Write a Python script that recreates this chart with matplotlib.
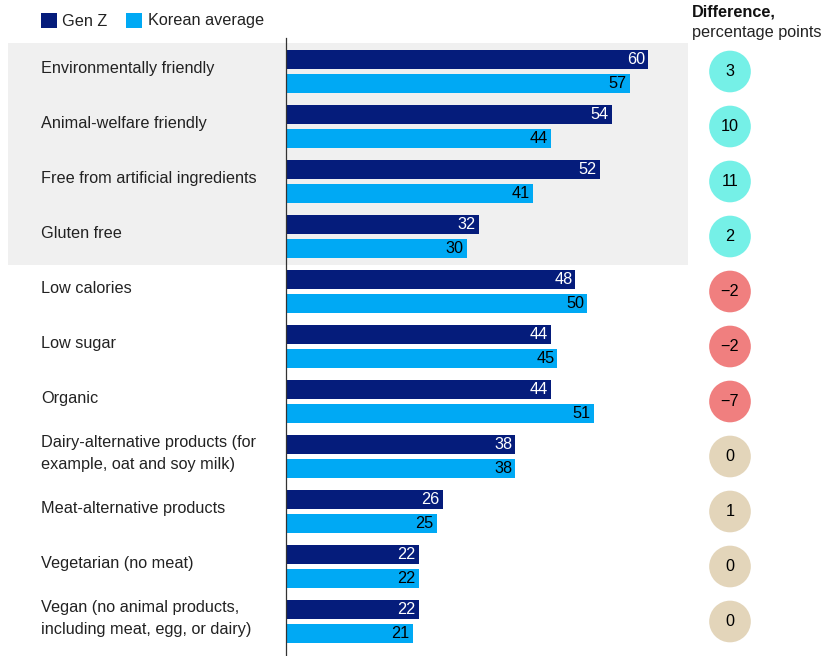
import matplotlib.pyplot as plt

plt.rcParams['font.family'] = ['Liberation Sans', 'DejaVu Sans']

# data
categories = ['Environmentally friendly', 'Animal-welfare friendly',
              'Free from artificial ingredients', 'Gluten free', 'Low calories',
              'Low sugar', 'Organic',
              'Dairy-alternative products (for\nexample, oat and soy milk)',
              'Meat-alternative products', 'Vegetarian (no meat)',
              'Vegan (no animal products,\nincluding meat, egg, or dairy)']
gen_z = [60, 54, 52, 32, 48, 44, 44, 38, 26, 22, 22]
korean_avg = [57, 44, 41, 30, 50, 45, 51, 38, 25, 22, 21]
difference = [3, 10, 11, 2, -2, -2, -7, 0, 1, 0, 0]
diff_group = ['higher'] * 4 + ['lower'] * 3 + ['similar'] * 4

navy = '#051c7b'
sky = '#00a9f4'
group_colors = {'higher': '#75f0e7', 'lower': '#f07f7f', 'similar': '#e3d5ba'}
fs = 11.7

W, H = 837, 656
fig = plt.figure(figsize=(W / 100, H / 100), dpi=100)

def px_axes(x0, y0, x1, y1):
    return fig.add_axes([x0 / W, 1 - y1 / H, (x1 - x0) / W, (y1 - y0) / H])

# background layer in pixel coords
bg = fig.add_axes([0, 0, 1, 1])
bg.set_xlim(0, W)
bg.set_ylim(H, 0)
bg.axis('off')
bg.add_patch(plt.Rectangle((8, 43), 680, 222, color='#f0f0f0', lw=0))

# legend
bg.add_patch(plt.Rectangle((41, 13), 16, 15, color=navy, lw=0))
bg.text(62, 21, 'Gen Z', fontsize=fs, va='center', color='#222222')
bg.add_patch(plt.Rectangle((126, 13), 16, 15, color=sky, lw=0))
bg.text(148, 21, 'Korean average', fontsize=fs, va='center', color='#222222')

# difference header
bg.text(692, 12, 'Difference,', fontsize=fs, fontweight='bold', va='center', color='#111111')
bg.text(692, 32, 'percentage points', fontsize=fs, va='center', color='#222222')

# bars
n = len(categories)
row_px = 55
top_row = 71.5
y_top = (38 - top_row) / row_px
y_bot = (H - top_row) / row_px
xmax = 67

ax = px_axes(286, 38, 690, H)
ax.patch.set_alpha(0)
ax.set_xlim(0, xmax)
ax.set_ylim(y_bot, y_top)
rows = list(range(n))
bh = 0.345
off = 0.21
ax.barh([r - off for r in rows], gen_z, height=bh, color=navy)
ax.barh([r + off for r in rows], korean_avg, height=bh, color=sky)
for r in rows:
    ax.text(gen_z[r] - 0.5, r - off, str(gen_z[r]), ha='right', va='center',
            fontsize=fs, color='white')
    ax.text(korean_avg[r] - 0.5, r + off, str(korean_avg[r]), ha='right', va='center',
            fontsize=fs, color='black')
for s in ['top', 'right', 'bottom']:
    ax.spines[s].set_visible(False)
ax.spines['left'].set_color('#333333')
ax.spines['left'].set_linewidth(0.9)
ax.set_xticks([])
ax.set_yticks([])

# category labels
for r, c in enumerate(categories):
    bg.text(41, top_row + r * row_px - 3, c, fontsize=fs, va='center',
            ha='left', color='#222222', linespacing=1.55)

# difference circles
dax = px_axes(700, 38, 760, H)
dax.set_xlim(-1, 1)
dax.set_ylim(y_bot, y_top)
dax.axis('off')
dax.scatter([0] * n, rows, s=900, c=[group_colors[g] for g in diff_group],
            linewidths=0)
for r, d in enumerate(difference):
    lab = str(d) if d >= 0 else '\u2212' + str(-d)
    dax.text(0, r, lab, ha='center', va='center', fontsize=fs, color='black')

fig.savefig('out.png', dpi=100)
